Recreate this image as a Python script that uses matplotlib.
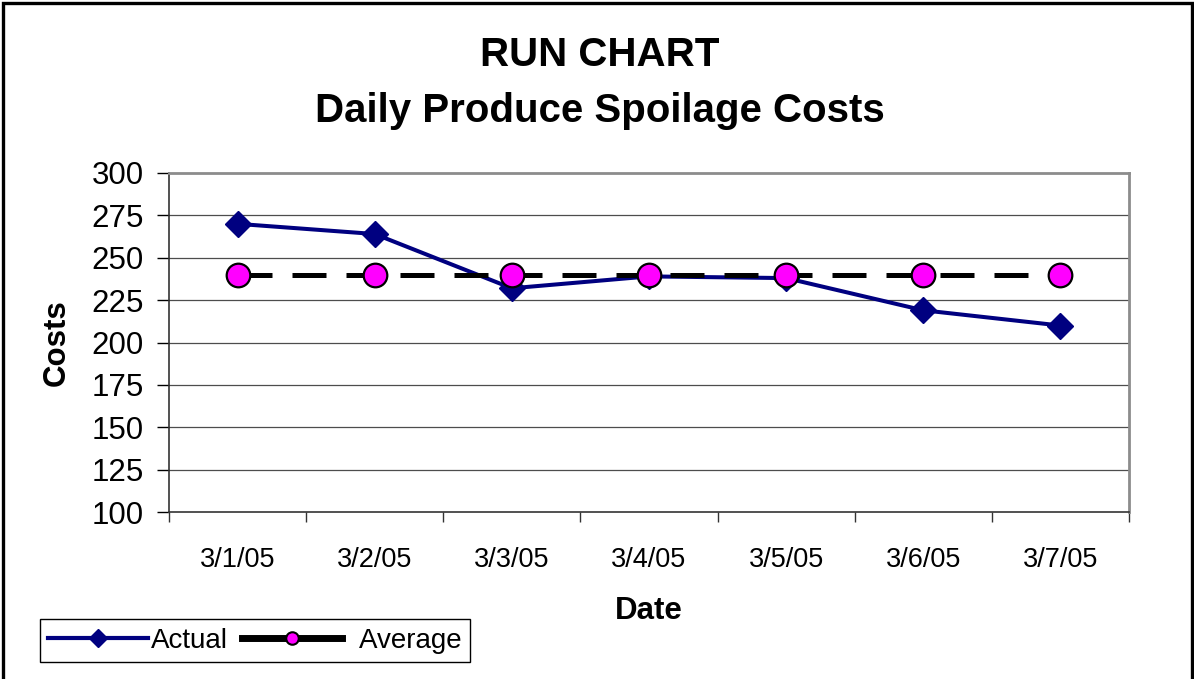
import matplotlib
matplotlib.use("Agg")
import matplotlib.pyplot as plt
from matplotlib.lines import Line2D
from matplotlib.patches import Rectangle

plt.rcParams["font.family"] = ["Liberation Sans", "DejaVu Sans"]

dates = ["3/1/05", "3/2/05", "3/3/05", "3/4/05", "3/5/05", "3/6/05", "3/7/05"]
actual = [270, 264, 232, 239, 238, 219, 210]
average = [240, 240, 240, 240, 240, 240, 240]
y_ticks = [100, 125, 150, 175, 200, 225, 250, 275, 300]

W, H = 1194, 679
fig = plt.figure(figsize=(W / 100, H / 100), dpi=100)
ax = fig.add_axes([169 / W, 1 - 512 / H, (1129 - 169) / W, (512 - 173) / H])

x = list(range(len(dates)))

# gridlines first so the series sit on top
for v in y_ticks[1:-1]:
    ax.axhline(v, color="#4d4d4d", lw=0.9, zorder=1)

ax.plot(x, actual, color="#000080", lw=2.9, marker="D", ms=13.5,
        mfc="#000080", mec="#000080", zorder=3)
ax.plot(x, average, color="black", lw=3.6, ls=(0, (6.8, 4.0)),
        marker="o", ms=17, mfc="#ff00ff", mec="black", mew=1.6, zorder=4)

ax.set_xlim(-0.5, len(dates) - 0.5)
ax.set_ylim(100, 300)
ax.set_yticks(y_ticks)
ax.tick_params(axis="y", direction="out", length=9, width=1, pad=9,
               labelsize=22.5, colors="black")

# category labels centred, ticks on the boundaries
ax.set_xticks(x)
ax.set_xticklabels(dates)
ax.set_xticks([i - 0.5 for i in range(len(dates) + 1)], minor=True)
ax.tick_params(axis="x", which="major", length=0, pad=25, labelsize=19.5)
ax.tick_params(axis="x", which="minor", direction="out", length=7, width=1,
               color="#333333")

for side in ("top", "right"):
    ax.spines[side].set_color("#8c8c8c")
    ax.spines[side].set_linewidth(2)
for side in ("left", "bottom"):
    ax.spines[side].set_color("#333333")
    ax.spines[side].set_linewidth(1.2)

ax.set_xlabel("Date", fontsize=22.5, fontweight="bold")
ax.xaxis.set_label_coords((649 - 169) / (1129 - 169), -(611 - 512) / (512 - 173))
ax.xaxis.label.set_va("center")
ax.set_ylabel("Costs", fontsize=22.5, fontweight="bold")
ax.yaxis.set_label_coords(-(169 - 57) / (1129 - 169), 0.5)
ax.yaxis.label.set_va("center")

fig.text(0.5025, 1 - 55 / H, "RUN CHART", ha="center", va="center",
         fontsize=29, fontweight="bold")
fig.text(0.5025, 1 - 111 / H, "Daily Produce Spoilage Costs", ha="center",
         va="center", fontsize=29, fontweight="bold")

handles = [
    Line2D([], [], color="#000080", lw=3, marker="D", ms=9, mfc="#000080", mec="#000080"),
    Line2D([], [], color="black", lw=5, marker="o", ms=9, mfc="#ff00ff", mec="black", mew=1.5),
]
leg = fig.legend(handles, ["Actual", "  Average"], loc="lower left",
                 bbox_to_anchor=(40 / W, 1 - 662 / H), ncol=2, fontsize=20,
                 frameon=True, fancybox=False, edgecolor="black", framealpha=1,
                 handlelength=3.6, handletextpad=0.1, columnspacing=0.5,
                 borderpad=0.3, borderaxespad=0)
leg.get_frame().set_linewidth(1)

# outer chart border
fig.add_artist(Rectangle((3 / W, -0.05), (1192 - 3) / W, 1.05 - 3 / H,
                         transform=fig.transFigure, fill=False, ec="black", lw=2.4))

fig.savefig("out.png", dpi=100)
